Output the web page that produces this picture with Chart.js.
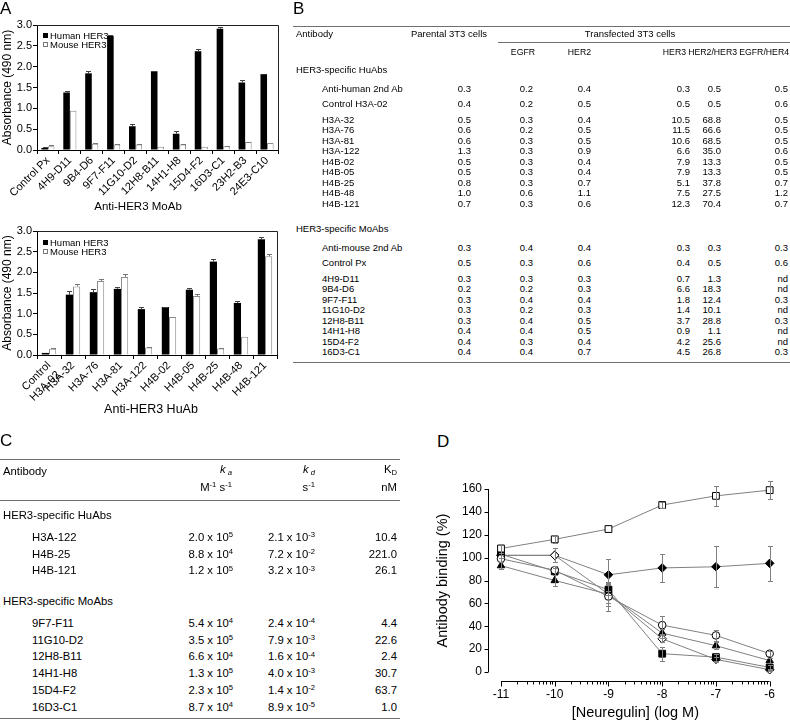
<!DOCTYPE html>
<html>
<head>
<meta charset="utf-8">
<title>HER3 antibodies</title>
<script src="https://cdn.jsdelivr.net/npm/chart.js@4.4.1/dist/chart.umd.min.js"></script>
<style>
  body { margin: 0; background: #fff; font-family: "Liberation Sans", Arial, sans-serif; color: #000; }
  #page { position: relative; width: 790px; height: 724px; overflow: hidden; }
  canvas { position: absolute; }
  .t { position: absolute; white-space: nowrap; line-height: 1; }
  .rule { position: absolute; height: 1px; background: #707070; }
  .sup { font-size: 0.68em; position: relative; top: -0.5em; }
  .sub { font-size: 0.68em; position: relative; top: 0.3em; }
  .key { position: absolute; width: 5px; height: 5px; box-sizing: border-box; }
</style>
</head>
<body>
<div id="page">
  <canvas id="moab" width="282" height="200" style="left:0px;top:0px"></canvas>
  <canvas id="huab" width="282" height="190" style="left:0px;top:215px"></canvas>
  <canvas id="neur" width="390" height="264" style="left:400px;top:460px"></canvas>
</div>
<script>
// ---- A: ELISA, absorbance at 490 nm ----
var moabLabels = ['Control Px', '4H9-D11', '9B4-D6', '9F7-F11', '11G10-D2', '12H8-B11', '14H1-H8', '15D4-F2', '16D3-C1', '23H2-B3', '24E3-C10'];
var moabHuman = [0.05, 1.38, 1.84, 2.74, 0.57, 1.89, 0.39, 2.37, 2.91, 1.62, 1.82];
var moabHumanErr = [0.03, 0.04, 0.06, 0.02, 0.06, 0, 0.06, 0.06, 0.05, 0.06, 0];
var moabMouse = [0.09, 0.94, 0.15, 0.13, 0.13, 0.08, 0.13, 0.08, 0.09, 0.19, 0.17];
var moabMouseErr = [0.02, 0, 0.01, 0.01, 0.01, 0, 0.01, 0, 0.01, 0.01, 0];

var huabLabels = [['Control', 'H3A-02'], 'H3A-32', 'H3A-76', 'H3A-81', 'H3A-122', 'H4B-02', 'H4B-05', 'H4B-25', 'H4B-48', 'H4B-121'];
var huabHuman = [0.05, 1.46, 1.52, 1.60, 1.11, 1.16, 1.58, 2.26, 1.26, 2.80];
var huabHumanErr = [0, 0.08, 0.07, 0.05, 0.05, 0.01, 0.03, 0.07, 0.04, 0.05];
var huabMouse = [0.15, 1.66, 1.79, 1.89, 0.18, 0.92, 1.43, 0.16, 0.44, 2.39];
var huabMouseErr = [0.01, 0.05, 0.06, 0.06, 0.01, 0, 0.04, 0.01, 0, 0.05];

// ---- B: FACS on 3T3 cells (parental, EGFR, HER2, HER3, HER2/HER3, EGFR/HER4), null = nd ----
var tabBCols = ['EGFR', 'HER2', 'HER3', 'HER2/HER3', 'EGFR/HER4'];
var tabBHuNames = ['Anti-human 2nd Ab', 'Control H3A-02', 'H3A-32', 'H3A-76', 'H3A-81', 'H3A-122', 'H4B-02', 'H4B-05', 'H4B-25', 'H4B-48', 'H4B-121'];
var tabBHuValues = [
  [0.3, 0.2, 0.4, 0.3, 0.5, 0.5],
  [0.4, 0.2, 0.5, 0.5, 0.5, 0.6],
  [0.5, 0.3, 0.4, 10.5, 68.8, 0.5],
  [0.6, 0.2, 0.5, 11.5, 66.6, 0.5],
  [0.6, 0.3, 0.5, 10.6, 68.5, 0.5],
  [1.3, 0.3, 0.9, 6.6, 35.0, 0.6],
  [0.5, 0.3, 0.4, 7.9, 13.3, 0.5],
  [0.5, 0.3, 0.4, 7.9, 13.3, 0.5],
  [0.8, 0.3, 0.7, 5.1, 37.8, 0.7],
  [1.0, 0.6, 1.1, 7.5, 27.5, 1.2],
  [0.7, 0.3, 0.6, 12.3, 70.4, 0.7]
];
var tabBMoNames = ['Anti-mouse 2nd Ab', 'Control Px', '4H9-D11', '9B4-D6', '9F7-F11', '11G10-D2', '12H8-B11', '14H1-H8', '15D4-F2', '16D3-C1'];
var tabBMoValues = [
  [0.3, 0.4, 0.4, 0.3, 0.3, 0.3],
  [0.5, 0.3, 0.6, 0.4, 0.5, 0.6],
  [0.3, 0.3, 0.3, 0.7, 1.3, null],
  [0.2, 0.2, 0.3, 6.6, 18.3, null],
  [0.3, 0.4, 0.4, 1.8, 12.4, 0.3],
  [0.3, 0.2, 0.3, 1.4, 10.1, null],
  [0.3, 0.4, 0.5, 3.7, 28.8, 0.3],
  [0.4, 0.4, 0.5, 0.9, 1.1, null],
  [0.4, 0.3, 0.4, 4.2, 25.6, null],
  [0.4, 0.4, 0.7, 4.5, 26.8, 0.3]
];

// ---- C: kinetics, [mantissa, exponent] ----
var tabCHuNames = ['H3A-122', 'H4B-25', 'H4B-121'];
var tabCHuKa = [[2.0, 5], [8.8, 4], [1.2, 5]];
var tabCHuKd = [[2.1, -3], [7.2, -2], [3.2, -3]];
var tabCHuKD = [10.4, 221.0, 26.1];
var tabCMoNames = ['9F7-F11', '11G10-D2', '12H8-B11', '14H1-H8', '15D4-F2', '16D3-C1'];
var tabCMoKa = [[5.4, 4], [3.5, 5], [6.6, 4], [1.3, 5], [2.3, 5], [8.7, 4]];
var tabCMoKd = [[2.4, -4], [7.9, -3], [1.6, -4], [4.0, -3], [1.4, -2], [8.9, -5]];
var tabCMoKD = [4.4, 22.6, 2.4, 30.7, 63.7, 1.0];

// ---- D: binding vs neuregulin ----
var doseLog = [-11, -10, -9, -8, -7, -6];
var bindOpenSquare = [108, 116, 125, 146, 154, 159];
var errOpenSquare = [4, 3, 0, 3, 9, 8];
var bindOpenCircle = [99, 89, 66, 41, 32, 16];
var errOpenCircle = [3, 4, 13, 8, 5, 2];
var bindFilledTriangle = [93, 80, 68, 34, 23, 10];
var errFilledTriangle = [3, 5, 8, 4, 3, 2];
var bindFilledSquare = [103, 88, 72, 16, 13, 4];
var errFilledSquare = [3, 3, 5, 6, 3, 2];
var bindOpenDiamond = [102, 102, 68, 29, 11, 2];
var errOpenDiamond = [2, 6, 10, 3, 2, 1];
var bindFilledDiamond = [102, 102, 85, 91, 92, 95];
var errFilledDiamond = [0, 6, 14, 12, 18, 15];

Chart.defaults.font.family = '"Liberation Sans", Arial, sans-serif';
Chart.defaults.color = '#000';

var page = document.getElementById('page');

// text placed by its vertical centre
function put(html, x, y, align, size, extra) {
  var d = document.createElement('div');
  d.className = 't';
  d.innerHTML = html;
  d.style.left = x + 'px';
  d.style.top = y + 'px';
  d.style.fontSize = size + 'px';
  var tx = align === 'right' ? '-100%' : (align === 'center' ? '-50%' : '0');
  d.style.transform = 'translate(' + tx + ',-50%)';
  if (extra) d.style.cssText += extra;
  page.appendChild(d);
  return d;
}
function rule(x1, x2, y) {
  var d = document.createElement('div');
  d.className = 'rule';
  d.style.left = x1 + 'px';
  d.style.width = (x2 - x1) + 'px';
  d.style.top = y + 'px';
  page.appendChild(d);
}
function fmt(v) { return v === null ? 'nd' : v.toFixed(1); }
function pow10(m) { return m[0].toFixed(1) + ' x 10<span class="sup">' + m[1] + '</span>'; }

// error bars drawn from the library's own scales
var errorBars = {
  id: 'errorBars',
  afterDatasetsDraw: function(chart) {
    var ctx = chart.ctx;
    chart.data.datasets.forEach(function(ds, i) {
      if (!ds.errors) return;
      var meta = chart.getDatasetMeta(i);
      var ys = meta.yScale;
      ctx.save();
      ctx.strokeStyle = ds.errorColor || '#555';
      ctx.lineWidth = 1;
      ctx.beginPath();
      meta.data.forEach(function(el, j) {
        var e = ds.errors[j];
        if (!e) return;
        var raw = ds.data[j];
        var v = typeof raw === 'object' ? raw.y : raw;
        var x = Math.round(el.x) + 0.5;
        var top = Math.round(ys.getPixelForValue(v + e)) + 0.5;
        var bot = ds.errorBoth ? Math.round(ys.getPixelForValue(v - e)) + 0.5 : el.y;
        ctx.moveTo(x, bot); ctx.lineTo(x, top);
        ctx.moveTo(x - 2.5, top); ctx.lineTo(x + 2.5, top);
        if (ds.errorBoth) { ctx.moveTo(x - 2.5, bot); ctx.lineTo(x + 2.5, bot); }
      });
      ctx.stroke();
      ctx.restore();
    });
  }
};

// closes the box on top and right
var frame = {
  id: 'frame',
  afterDraw: function(chart) {
    var a = chart.chartArea, ctx = chart.ctx;
    ctx.save();
    ctx.strokeStyle = '#222';
    ctx.lineWidth = 1;
    ctx.beginPath();
    ctx.moveTo(Math.round(a.left), Math.round(a.top) + 0.5);
    ctx.lineTo(Math.round(a.right) + 0.5, Math.round(a.top) + 0.5);
    ctx.lineTo(Math.round(a.right) + 0.5, Math.round(a.bottom));
    ctx.stroke();
    ctx.restore();
  }
};

function barChart(id, labels, human, humanErr, mouse, mouseErr, pad) {
  return new Chart(document.getElementById(id), {
    type: 'bar',
    data: {
      labels: labels,
      datasets: [
        { label: 'Human HER3', data: human, errors: humanErr, backgroundColor: '#000', borderWidth: 0,
          categoryPercentage: 0.6, barPercentage: 1, errorColor: '#444' },
        { label: 'Mouse HER3', data: mouse, errors: mouseErr, backgroundColor: '#fff', borderColor: '#8c8c8c',
          borderWidth: 1, categoryPercentage: 0.6, barPercentage: 1, errorColor: '#777' }
      ]
    },
    options: {
      responsive: false,
      animation: false,
      events: [],
      layout: { padding: pad },
      plugins: { legend: { display: false }, tooltip: { enabled: false } },
      scales: {
        x: {
          grid: { display: true, drawOnChartArea: false, tickLength: 4, color: '#000' },
          border: { color: '#000' },
          ticks: { minRotation: 45, maxRotation: 45, autoSkip: false, padding: 0, font: { size: 11 } },
          afterFit: function(s) { s.height = 50; }
        },
        y: {
          min: 0, max: 3,
          grid: { drawOnChartArea: false, tickLength: 4, color: '#000' },
          border: { color: '#000' },
          ticks: { stepSize: 0.5, padding: 1, font: { size: 11 }, callback: function(v) { return v.toFixed(1); } },
          title: { display: true, text: 'Absorbance (490 nm)', font: { size: 12 }, padding: 0 },
          afterFit: function(s) { s.width = 37; }
        }
      }
    },
    plugins: [frame, errorBars]
  });
}

barChart('moab', moabLabels, moabHuman, moabHumanErr, moabMouse, moabMouseErr, { top: 25, right: 4, left: 0, bottom: 0 });
barChart('huab', huabLabels, huabHuman, huabHumanErr, huabMouse, huabMouseErr, { top: 16, right: 5, left: 0, bottom: 0 });

// legends and axis names for A
function legendA(y) {
  var k1 = document.createElement('div');
  k1.className = 'key'; k1.style.left = '43px'; k1.style.top = (y - 3) + 'px'; k1.style.background = '#000';
  var k2 = document.createElement('div');
  k2.className = 'key'; k2.style.left = '43px'; k2.style.top = (y + 6) + 'px'; k2.style.border = '1px solid #777';
  page.appendChild(k1); page.appendChild(k2);
  put('Human HER3', 50, y, 'left', 9.5);
  put('Mouse HER3', 50, y + 9, 'left', 9.5);
}
legendA(35.5);
legendA(243);
put('Anti-HER3 MoAb', 138, 207, 'center', 11.5);
put('Anti-HER3 HuAb', 151, 409, 'center', 12.5);

// ---- D chart ----
var offsetAxes = {
  id: 'offsetAxes',
  afterDraw: function(chart) {
    var ctx = chart.ctx, xs = chart.scales.x, ys = chart.scales.y, a = chart.chartArea;
    var ax = Math.round(a.left - 13) + 0.5, ay = Math.round(a.bottom + 9) + 0.5;
    ctx.save();
    ctx.strokeStyle = '#000';
    ctx.lineWidth = 1;
    ctx.beginPath();
    ctx.moveTo(ax, ys.getPixelForValue(ys.min));
    ctx.lineTo(ax, ys.getPixelForValue(ys.max));
    ys.ticks.forEach(function(t) {
      var y = Math.round(ys.getPixelForValue(t.value)) + 0.5;
      ctx.moveTo(ax, y); ctx.lineTo(ax - 4, y);
    });
    ctx.moveTo(xs.getPixelForValue(xs.min), ay);
    ctx.lineTo(xs.getPixelForValue(xs.max), ay);
    for (var d = xs.min; d <= xs.max; d++) {
      var x = Math.round(xs.getPixelForValue(d)) + 0.5;
      ctx.moveTo(x, ay); ctx.lineTo(x, ay + 5);
      if (d < xs.max) {
        for (var k = 2; k < 10; k++) {
          var xm = Math.round(xs.getPixelForValue(d + Math.log10(k))) + 0.5;
          ctx.moveTo(xm, ay); ctx.lineTo(xm, ay + 3);
        }
      }
    }
    ctx.stroke();
    ctx.restore();
  }
};

function series(values, errs, style, radius, fill) {
  return {
    data: doseLog.map(function(x, i) { return { x: x, y: values[i] }; }),
    errors: errs,
    errorBoth: true,
    errorColor: '#808080',
    borderColor: '#808080',
    borderWidth: 1,
    pointStyle: style,
    pointRadius: radius,
    pointBackgroundColor: fill,
    pointBorderColor: '#000',
    pointBorderWidth: 1,
    clip: false
  };
}

new Chart(document.getElementById('neur'), {
  type: 'line',
  data: {
    datasets: [
      series(bindOpenSquare, errOpenSquare, 'rect', 4.8, '#fff'),
      series(bindOpenCircle, errOpenCircle, 'circle', 3.8, '#fff'),
      series(bindFilledTriangle, errFilledTriangle, 'triangle', 4.3, '#000'),
      series(bindFilledSquare, errFilledSquare, 'rect', 4.8, '#000'),
      series(bindOpenDiamond, errOpenDiamond, 'rectRot', 4.3, '#fff'),
      series(bindFilledDiamond, errFilledDiamond, 'rectRot', 4.3, '#000')
    ]
  },
  options: {
    responsive: false,
    animation: false,
    events: [],
    layout: { padding: { left: 0, right: 7, top: 29, bottom: 0 } },
    plugins: { legend: { display: false }, tooltip: { enabled: false } },
    scales: {
      x: {
        type: 'linear', min: -11, max: -6,
        grid: { display: false, drawTicks: false }, border: { display: false },
        ticks: { stepSize: 1, padding: 15, font: { size: 12 } },
        title: { display: true, text: '[Neuregulin] (log M)', font: { size: 14.5 }, padding: { top: 0, bottom: 2 } },
        afterFit: function(s) { s.height = 52; }
      },
      y: {
        min: 0, max: 160,
        grid: { display: false, drawTicks: false }, border: { display: false },
        ticks: { stepSize: 20, padding: 19, font: { size: 12 } },
        title: { display: true, text: 'Antibody binding (%)', font: { size: 14.5 }, padding: { top: 34, bottom: 0 } },
        afterFit: function(s) { s.width = 101; }
      }
    }
  },
  plugins: [offsetAxes, errorBars]
});

// ---- panel letters ----
put('A', 0, 8, 'left', 17);
put('B', 293, 8, 'left', 17);
put('C', 0, 440, 'left', 17);
put('D', 437, 441, 'left', 17);

// ---- B table ----
var bSize = 9.5;
var bValRight = [471, 533, 591, 690, 721, 788];
rule(293, 790, 26);
put('Antibody', 296, 34, 'left', bSize);
put('Parental 3T3 cells', 449, 34, 'center', bSize);
put('Transfected 3T3 cells', 630, 34, 'center', bSize);
rule(498, 790, 42);
var bHeadRight = [535, 591, 686, 737, 789];
tabBCols.forEach(function(c, i) { put(c, bHeadRight[i], 52, 'right', 8.7); });

function tableBBlock(title, names, values, yHead, step) {
  put(title, 296, yHead, 'left', bSize);
  var ys = [yHead + 18.5, yHead + 34];
  for (var i = 2; i < names.length; i++) ys.push(yHead + 49.5 + (i - 2) * step);
  names.forEach(function(n, i) {
    put(n, 322, ys[i], 'left', bSize);
    values[i].forEach(function(v, j) { put(fmt(v), bValRight[j], ys[i], 'right', bSize); });
  });
}
tableBBlock('HER3-specific HuAbs', tabBHuNames, tabBHuValues, 70, 10.5);
tableBBlock('HER3-specific MoAbs', tabBMoNames, tabBMoValues, 229, 10.5);
rule(293, 790, 362);

// ---- C table ----
var cSize = 11.3;
rule(0, 400, 459);
put('Antibody', 3, 472, 'left', cSize);
put('<i>k</i><span class="sub" style="font-style:italic">&nbsp;a</span>', 232, 470, 'right', cSize);
put('<i>k</i><span class="sub" style="font-style:italic">&nbsp;d</span>', 315, 470, 'right', cSize);
put('K<span class="sub">D</span>', 397, 470, 'right', cSize);
put('M<span class="sup">-1</span> s<span class="sup">-1</span>', 232, 488, 'right', cSize);
put('s<span class="sup">-1</span>', 315, 488, 'right', cSize);
put('nM', 397, 488, 'right', cSize);
rule(0, 400, 500);

function tableCBlock(title, names, ka, kd, kD, yHead) {
  put(title, 3, yHead, 'left', cSize);
  names.forEach(function(n, i) {
    var y = yHead + 22 + i * 16.7;
    put(n, 32, y, 'left', cSize);
    put(pow10(ka[i]), 233, y, 'right', cSize);
    put(pow10(kd[i]), 315, y, 'right', cSize);
    put(kD[i].toFixed(1), 397, y, 'right', cSize);
  });
}
tableCBlock('HER3-specific HuAbs', tabCHuNames, tabCHuKa, tabCHuKd, tabCHuKD, 516);
tableCBlock('HER3-specific MoAbs', tabCMoNames, tabCMoKa, tabCMoKd, tabCMoKD, 602);
rule(0, 400, 718);
</script>
</body>
</html>
